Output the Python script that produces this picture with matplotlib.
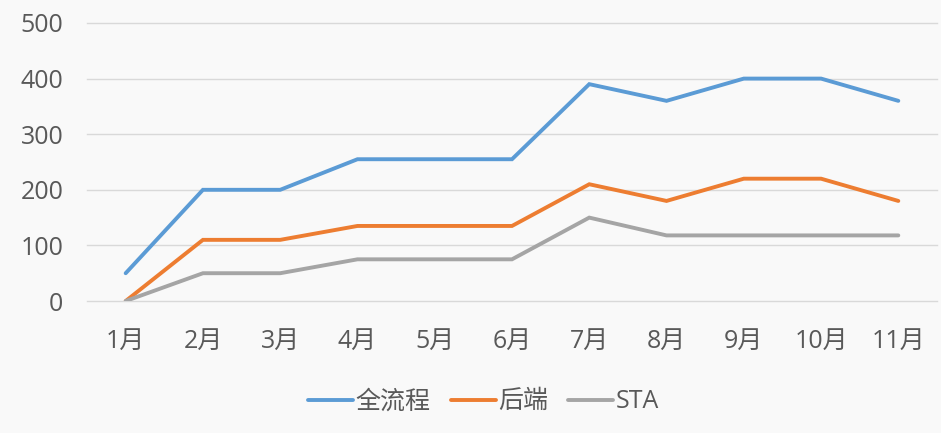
import matplotlib.pyplot as plt

plt.rcParams['font.family'] = ['Open Sans', 'Noto Sans CJK SC', 'DejaVu Sans']

# data
months = ['1月', '2月', '3月', '4月', '5月', '6月', '7月', '8月', '9月', '10月', '11月']
full_flow = [50, 200, 200, 255, 255, 255, 390, 360, 400, 400, 360]
backend = [0, 110, 110, 135, 135, 135, 210, 180, 220, 220, 180]
sta = [0, 50, 50, 75, 75, 75, 150, 118, 118, 118, 118]

series_names = ['全流程', '后端', 'STA']
colors = ['#5B9BD5', '#ED7D31', '#A5A5A5']

bg = '#F9F9F9'
text_color = '#595959'

fig = plt.figure(figsize=(9.41, 4.33), dpi=100, facecolor=bg)
ax = fig.add_axes([0.0925, 0.3048, 0.9032, 0.6421], facecolor=bg)

x = range(len(months))
for values, name, color in zip([full_flow, backend, sta], series_names, colors):
    ax.plot(x, values, color=color, linewidth=2.8, label=name,
            solid_capstyle='round', solid_joinstyle='miter')

ax.set_xlim(-0.5, len(months) - 0.5)
ax.set_ylim(0, 500)
ax.set_yticks(range(0, 501, 100))
ax.set_xticks(list(x))
ax.set_xticklabels(months)

ax.grid(axis='y', color='#D9D9D9', linewidth=1.0)
ax.set_axisbelow(True)
for line in ax.get_ygridlines():
    line.set_clip_on(False)
for spine in ax.spines.values():
    spine.set_visible(False)

ax.tick_params(axis='both', length=0, labelsize=18, colors=text_color)
ax.tick_params(axis='x', pad=20)
ax.tick_params(axis='y', pad=17)

fig.legend(loc='center', bbox_to_anchor=(0.514, 0.072), ncol=3, frameon=False,
           fontsize=18, labelcolor=text_color, handlelength=1.8,
           handletextpad=0.1, columnspacing=0.8)

fig.savefig('out.png', dpi=100, facecolor=bg)
